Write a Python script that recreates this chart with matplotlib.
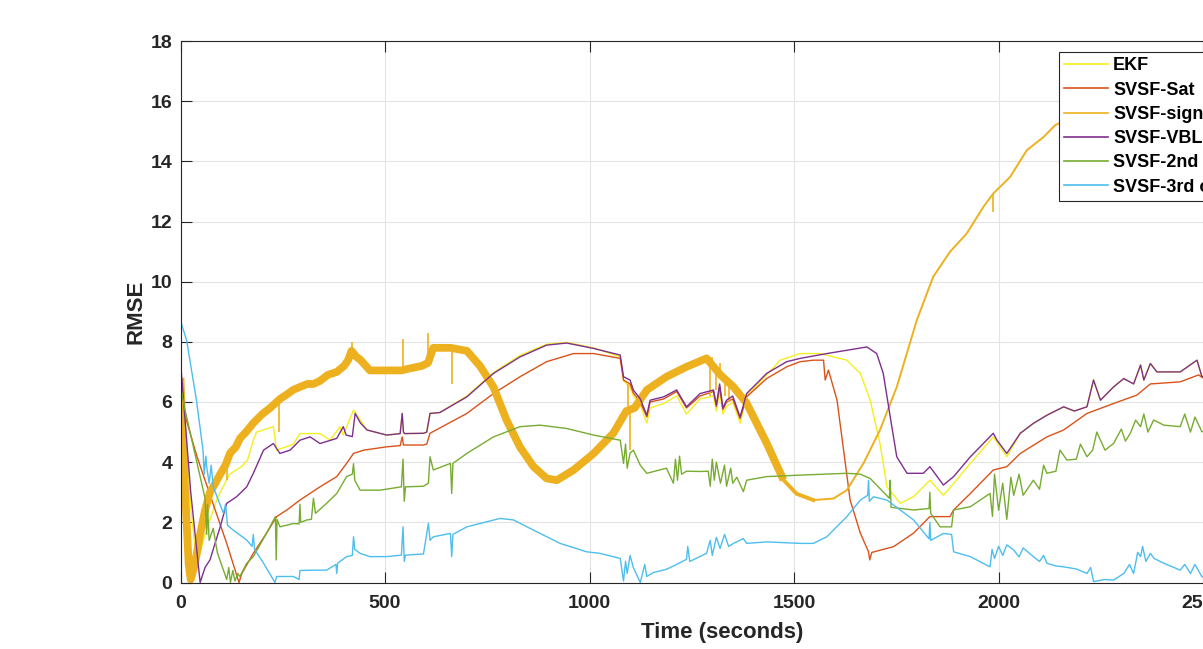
import matplotlib
matplotlib.use("Agg")
import matplotlib.pyplot as plt
from matplotlib.lines import Line2D
import numpy as np

plt.rcParams['font.family'] = ['Liberation Sans', 'DejaVu Sans']
plt.rcParams['font.weight'] = 'bold'

# ---- data (time in seconds, RMSE) ----
labels = ['EKF', 'SVSF-Sat', 'SVSF-sign', 'SVSF-VBL', 'SVSF-2nd order', 'SVSF-3rd order']
colors = ['#f4ef1e', '#d95319', '#edb120', '#7e2f8e', '#77ac30', '#4dbeee']

ekf_t = [0, 10, 25, 40, 60, 90, 120, 149, 164, 178, 186, 227, 235, 276, 292, 341, 366, 390, 398,
         423, 456, 504, 537, 542, 545, 548, 594, 602, 610, 634, 700, 765, 830, 895, 944, 1010,
         1075, 1083, 1099, 1107, 1124, 1140, 1148, 1181, 1213, 1237, 1270, 1303, 1310, 1318, 1326,
         1335, 1350, 1368, 1384, 1433, 1466, 1515, 1564, 1629, 1662, 1686, 1710, 1727, 1760, 1792,
         1832, 1865, 1890, 1931, 1987, 2020, 2053, 2085, 2118, 2159, 2185, 2216, 2232, 2249, 2281,
         2306, 2330, 2347, 2355, 2371, 2387, 2444, 2485, 2497, 2550, 2650]
ekf_v = [7.0, 5.5, 2.5, 0.6, 1.6, 2.8, 3.6, 3.85, 4.07, 4.73, 5.0, 5.18, 4.4, 4.6, 4.95, 4.95, 4.73,
         5.18, 4.9, 5.73, 5.07, 4.9, 4.95, 5.62, 5.0, 4.95, 4.96, 5.0, 5.62, 5.65, 6.2, 6.98, 7.55,
         7.92, 7.98, 7.8, 7.5, 6.7, 6.5, 6.2, 5.9, 5.3, 5.8, 5.95, 6.2, 5.6, 6.1, 6.2, 5.7, 6.4, 5.6,
         5.85, 6.0, 5.3, 6.2, 6.9, 7.39, 7.61, 7.61, 7.39, 6.95, 6.06, 4.62, 3.18, 2.63, 2.85, 3.4,
         2.9, 3.29, 3.96, 4.84, 4.18, 4.96, 5.29, 5.56, 5.84, 5.7, 5.84, 6.73, 6.06, 6.5, 6.78, 6.6,
         7.23, 6.73, 7.28, 7.0, 7.0, 7.39, 6.84, 7.0, 7.1]

sat_t = [0, 10, 40, 80, 113, 143, 150, 178, 210, 235, 260, 292, 341, 382, 406, 423, 448, 504, 537,
         542, 545, 548, 594, 602, 610, 700, 765, 830, 895, 961, 1010, 1075, 1083, 1099, 1107, 1124,
         1140, 1148, 1181, 1213, 1237, 1270, 1303, 1310, 1318, 1326, 1335, 1350, 1368, 1384, 1433,
         1482, 1515, 1547, 1572, 1576, 1584, 1605, 1621, 1637, 1662, 1682, 1685, 1690, 1743, 1792,
         1832, 1881, 1890, 1931, 1987, 2020, 2053, 2118, 2159, 2216, 2281, 2338, 2371, 2444, 2489,
         2500, 2650]
sat_v = [6.5, 5.6, 4.2, 2.6, 1.3, 0.0, 0.3, 0.97, 1.63, 2.19, 2.41, 2.74, 3.18, 3.52, 3.96, 4.29,
         4.4, 4.51, 4.55, 4.84, 4.57, 4.57, 4.57, 4.6, 4.96, 5.62, 6.28, 6.84, 7.34, 7.61, 7.61, 7.45,
         6.73, 6.6, 6.3, 6.0, 5.5, 6.0, 6.1, 6.35, 5.8, 6.2, 6.35, 5.85, 6.5, 5.75, 6.0, 6.1, 5.45,
         6.17, 6.78, 7.17, 7.34, 7.39, 7.39, 6.73, 7.06, 6.06, 4.4, 2.74, 1.64, 1.02, 0.75, 1.0, 1.19,
         1.64, 2.19, 2.19, 2.41, 2.96, 3.74, 3.85, 4.29, 4.84, 5.07, 5.62, 5.95, 6.23, 6.6, 6.67, 6.9,
         6.8, 7.0]

# SVSF-sign: centre of the chattering band, then its thin spikes (time, tip value)
sign_t = [0, 5, 12, 20, 25, 35, 48, 60, 72, 85, 97, 110, 121, 135, 146, 160, 178, 200, 219, 243,
          260, 275, 292, 310, 325, 341, 360, 382, 400, 410, 418, 430, 440, 463, 500, 540, 555, 590,
          605, 618, 640, 660, 700, 732, 765, 797, 830, 863, 895, 920, 961, 1010, 1058, 1090, 1110,
          1140, 1188, 1237, 1286, 1320, 1352, 1384, 1433, 1474,
          1506, 1547, 1596, 1629, 1670, 1710, 1751, 1800, 1840, 1881, 1922, 1963, 1987, 2028,
          2069, 2110, 2138, 2200, 2300, 2400, 2500, 2650]
sign_v = [6.8, 5.0, 2.8, 0.6, 0.1, 0.6, 1.6, 2.4, 3.0, 3.3, 3.6, 3.9, 4.3, 4.5, 4.8, 5.0, 5.3,
          5.6, 5.8, 6.1, 6.25, 6.4, 6.5, 6.6, 6.6, 6.7, 6.9, 7.0, 7.2, 7.4, 7.7, 7.5, 7.4, 7.05,
          7.05, 7.05, 7.1, 7.2, 7.3, 7.8, 7.8, 7.8, 7.7, 7.2, 6.5, 5.4, 4.5, 3.85, 3.46, 3.4, 3.74,
          4.29, 4.96, 5.7, 5.8, 6.4, 6.84, 7.17, 7.45, 6.9, 6.5, 5.96, 4.63, 3.41,
          2.95, 2.74, 2.79, 3.07, 3.97, 5.07, 6.5, 8.72, 10.16, 10.99, 11.6, 12.49, 12.93, 13.48,
          14.37, 14.81, 15.2, 15.6, 16.0, 16.4, 16.8, 17.0]
sign_spk_t = [113, 240, 420, 544, 604, 663, 1095, 1099, 1295, 1300, 1310, 1318, 1330, 1340, 1987]
sign_spk_v = [3.4, 5.0, 8.0, 8.1, 8.3, 6.6, 6.6, 4.4, 6.2, 7.5, 6.4, 7.3, 6.2, 6.0, 12.3]

vbl_t = [0, 2, 10, 25, 48, 60, 72, 97, 113, 137, 162, 178, 203, 227, 243, 268, 292, 317, 341, 382,
         398, 405, 420, 427, 440, 456, 504, 537, 542, 545, 548, 594, 602, 610, 634, 700, 765, 830,
         895, 944, 1010, 1075, 1083, 1099, 1107, 1124, 1140, 1148, 1181, 1213, 1237, 1270, 1303,
         1310, 1318, 1326, 1335, 1350, 1368, 1384, 1433, 1482, 1515, 1580, 1629, 1678, 1702, 1718,
         1735, 1751, 1776, 1816, 1832, 1865, 1890, 1931, 1987, 1996, 2020, 2053, 2085, 2118, 2159,
         2185, 2216, 2232, 2249, 2281, 2306, 2330, 2347, 2355, 2371, 2387, 2444, 2485, 2497, 2550,
         2650]
vbl_v = [14.0, 7.0, 5.6, 3.0, 0.0, 0.5, 0.75, 1.85, 2.63, 2.85, 3.18, 3.63, 4.4, 4.62, 4.29, 4.4,
         4.73, 4.84, 4.62, 4.79, 5.18, 4.9, 4.85, 5.62, 5.3, 5.07, 4.9, 4.95, 5.62, 5.0, 4.95, 4.96,
         5.0, 5.62, 5.65, 6.17, 6.95, 7.5, 7.89, 7.96, 7.78, 7.56, 6.84, 6.73, 6.4, 6.1, 5.56, 6.06,
         6.17, 6.4, 5.84, 6.28, 6.4, 5.9, 6.6, 5.8, 6.06, 6.2, 5.5, 6.28, 6.95, 7.34, 7.45, 7.61,
         7.72, 7.83, 7.61, 6.95, 5.51, 4.18, 3.63, 3.63, 3.85, 3.24, 3.52, 4.18, 4.96, 4.73, 4.29,
         4.96, 5.29, 5.56, 5.84, 5.7, 5.84, 6.73, 6.06, 6.5, 6.78, 6.6, 7.23, 6.73, 7.28, 7.0, 7.0,
         7.39, 6.84, 7.0, 7.1]

o2_t = [0, 10, 40, 60, 64, 66, 70, 80, 90, 100, 113, 118, 122, 128, 133, 140, 145, 162, 178, 210,
        232, 234, 236, 243, 276, 290, 292, 294, 309, 320, 325, 330, 357, 382, 406, 420, 423, 426,
        439, 488, 540, 544, 547, 550, 594, 606, 610, 618, 660, 663, 666, 700, 765, 830, 879, 944,
        1010, 1075, 1083, 1088, 1092, 1099, 1107, 1124, 1140, 1188, 1205, 1210, 1215, 1220, 1225,
        1237, 1270, 1290, 1295, 1300, 1305, 1310, 1320, 1330, 1335, 1345, 1350, 1360, 1376, 1384,
        1433, 1515, 1629, 1662, 1686, 1733, 1735, 1737, 1792, 1830, 1832, 1834, 1857, 1885, 1890,
        1931, 1979, 1985, 1990, 2000, 2010, 2020, 2030, 2037, 2050, 2060, 2085, 2100, 2110, 2118,
        2140, 2150, 2167, 2190, 2200, 2216, 2230, 2240, 2260, 2281, 2300, 2310, 2322, 2335, 2347,
        2355, 2365, 2379, 2404, 2444, 2455, 2469, 2480, 2497, 2550, 2650]
o2_v = [6.5, 5.8, 4.0, 2.8, 1.6, 2.6, 1.4, 1.8, 1.0, 0.6, 0.1, 0.5, 0.0, 0.4, 0.05, 0.3, 0.2, 0.64,
        0.86, 1.63, 2.19, 0.75, 2.1, 1.85, 1.96, 1.95, 2.6, 2.0, 2.08, 2.1, 2.8, 2.3, 2.63, 2.96,
        3.52, 3.6, 3.95, 3.4, 3.07, 3.07, 3.18, 4.1, 2.7, 3.18, 3.2, 3.3, 4.18, 3.74, 3.96, 2.96,
        3.96, 4.29, 4.84, 5.18, 5.23, 5.12, 4.9, 4.73, 3.96, 4.6, 3.8, 4.3, 4.4, 3.9, 3.63, 3.8,
        3.3, 4.1, 3.4, 4.2, 3.6, 3.7, 3.69, 3.7, 3.2, 4.1, 3.4, 4.0, 3.3, 3.9, 3.2, 3.8, 3.3, 3.5,
        3.02, 3.4, 3.52, 3.57, 3.63, 3.6, 3.46, 2.8, 3.4, 2.5, 2.41, 2.46, 3.0, 2.3, 1.85, 1.85,
        2.41, 2.52, 2.96, 2.2, 3.6, 2.4, 3.3, 2.1, 3.5, 2.9, 3.6, 2.9, 3.4, 3.1, 3.9, 3.63, 3.7, 4.4,
        4.07, 4.1, 4.6, 4.18, 4.4, 5.0, 4.4, 4.62, 5.1, 4.7, 4.96, 5.4, 5.18, 5.6, 5.0, 5.4, 5.23,
        5.18, 5.6, 5.0, 5.5, 5.01, 5.2, 5.3]

o3_t = [0, 15, 39, 55, 58, 62, 64, 70, 75, 80, 105, 110, 115, 129, 162, 175, 178, 181, 203, 231,
        235, 276, 290, 292, 325, 357, 380, 382, 384, 406, 420, 423, 426, 439, 463, 504, 540, 544,
        547, 550, 594, 606, 610, 618, 660, 663, 666, 700, 781, 814, 863, 928, 993, 1025, 1075,
        1083, 1088, 1092, 1099, 1107, 1124, 1135, 1140, 1156, 1188, 1213, 1237, 1240, 1245, 1286,
        1295, 1300, 1310, 1319, 1330, 1340, 1352, 1376, 1384, 1433, 1515, 1547, 1580, 1629, 1662,
        1680, 1682, 1684, 1694, 1727, 1792, 1830, 1832, 1834, 1865, 1885, 1890, 1931, 1979, 1984,
        1990, 2000, 2010, 2020, 2037, 2050, 2060, 2085, 2100, 2110, 2118, 2140, 2159, 2190, 2216,
        2225, 2232, 2260, 2281, 2306, 2320, 2330, 2340, 2347, 2352, 2360, 2371, 2380, 2404, 2444,
        2455, 2469, 2480, 2497, 2550, 2650]
o3_v = [8.7, 8.05, 6.06, 4.4, 3.6, 4.2, 3.85, 3.3, 3.9, 3.18, 2.3, 2.6, 1.9, 1.74, 1.41, 1.2, 1.6,
        1.1, 0.64, 0.0, 0.2, 0.2, 0.1, 0.4, 0.41, 0.41, 0.6, 0.3, 0.64, 0.86, 0.9, 1.52, 1.1, 0.97,
        0.86, 0.86, 0.91, 1.85, 0.7, 0.91, 0.95, 1.97, 1.4, 1.52, 1.63, 0.86, 1.6, 1.85, 2.13,
        2.08, 1.74, 1.3, 1.02, 0.97, 0.8, 0.05, 0.7, 0.3, 0.9, 0.5, 0.0, 0.6, 0.2, 0.33, 0.44, 0.6,
        0.77, 1.2, 0.7, 0.97, 1.4, 0.9, 1.5, 1.13, 1.6, 1.2, 1.3, 1.46, 1.3, 1.35, 1.3, 1.3, 1.52,
        2.19, 2.74, 2.9, 3.4, 2.7, 2.85, 2.74, 2.08, 1.45, 2.0, 1.4, 1.63, 1.6, 1.02, 0.86, 0.52,
        1.1, 0.8, 1.2, 0.9, 1.25, 1.08, 0.85, 1.15, 0.86, 0.7, 0.9, 0.64, 0.55, 0.52, 0.45, 0.3,
        0.5, 0.03, 0.1, 0.08, 0.3, 0.6, 0.3, 1.0, 0.86, 1.2, 0.7, 0.97, 0.8, 0.64, 0.41, 0.6, 0.3,
        0.6, 0.19, 0.2, 0.2]

x_ticks = [0, 500, 1000, 1500, 2000, 2500]
y_ticks = [0, 2, 4, 6, 8, 10, 12, 14, 16, 18]

# ---- figure: axes runs past the right edge, like the cropped original ----
fig = plt.figure(figsize=(12.03, 6.49), dpi=100)
ax = fig.add_axes([180.5 / 1203, 1 - 582.5 / 649, 1084 / 1203, 541.5 / 649])

ax.plot(ekf_t, ekf_v, color=colors[0], lw=1.0)
ax.plot(sat_t, sat_v, color=colors[1], lw=1.0)

# SVSF-sign chatters heavily -> thick band until ~1480 s, thin after
k = sign_t.index(1474)
ax.plot(sign_t[:k + 1], sign_v[:k + 1], color=colors[2], lw=5.6,
        solid_joinstyle='round', solid_capstyle='butt')
ax.plot(sign_t[k:k + 3], sign_v[k:k + 3], color=colors[2], lw=2.8)
ax.plot(sign_t[k:], sign_v[k:], color=colors[2], lw=1.4)
base = np.interp(sign_spk_t, sign_t, sign_v)
ax.vlines(sign_spk_t, base, sign_spk_v, color=colors[2], lw=1.2)

ax.plot(vbl_t, vbl_v, color=colors[3], lw=1.0)
ax.plot(o2_t, o2_v, color=colors[4], lw=1.0)
ax.plot(o3_t, o3_v, color=colors[5], lw=1.0)

ax.set_xlim(0, 2650)
ax.set_ylim(0, 18)
ax.set_xticks(x_ticks)
ax.set_yticks(y_ticks)
ax.grid(True, color='#e3e3e3', lw=0.8)
ax.set_axisbelow(True)
ax.tick_params(direction='in', length=8, width=0.8, top=True, right=True,
               labelsize=14, colors='#262626')
ax.tick_params(axis='x', pad=9)
ax.tick_params(axis='y', pad=6)
for lab in ax.get_xticklabels() + ax.get_yticklabels():
    lab.set_fontweight('bold')
for s in ax.spines.values():
    s.set_color('#262626')
    s.set_linewidth(0.8)

ax.set_xlabel('Time (seconds)', fontsize=16, fontweight='bold', color='#262626', labelpad=7)
ax.set_ylabel('RMSE', fontsize=16, fontweight='bold', color='#262626', labelpad=3)

handles = [Line2D([], [], color=c, lw=1.2) for c in colors]
leg = fig.legend(handles, labels, loc='upper left', bbox_to_anchor=(1059 / 1203, 1 - 52 / 649),
                 bbox_transform=fig.transFigure, borderaxespad=0, fancybox=False, framealpha=1,
                 edgecolor='#262626', prop={'size': 13, 'weight': 'bold'}, handlelength=2.4,
                 handletextpad=0.3, labelspacing=0.4, borderpad=0.3)
leg.get_frame().set_linewidth(0.8)
leg.set_zorder(10)

fig.savefig('out.png', dpi=100)
